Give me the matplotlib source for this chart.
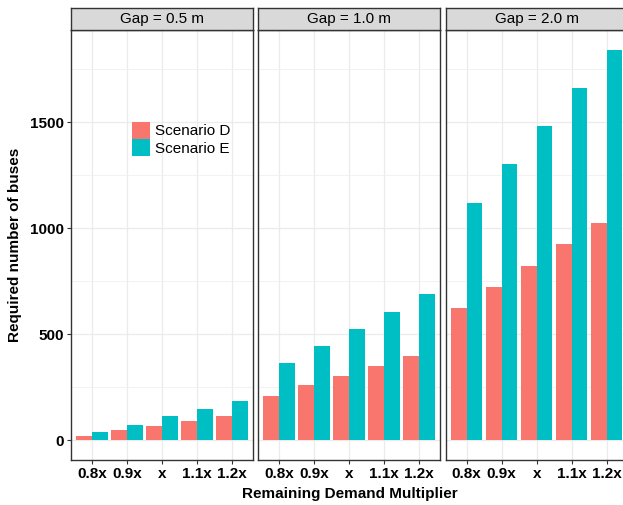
import numpy as np
import matplotlib.pyplot as plt
from matplotlib.patches import Patch

plt.rcParams['font.family'] = ['Liberation Sans', 'DejaVu Sans']

# data
gaps = ["Gap = 0.5 m", "Gap = 1.0 m", "Gap = 2.0 m"]
multipliers = ["0.8x", "0.9x", "x", "1.1x", "1.2x"]
scenario_d = [
    [23, 47, 70, 94, 117],
    [211, 259, 305, 352, 400],
    [625, 724, 823, 926, 1025],
]
scenario_e = [
    [38, 75, 113, 150, 188],
    [367, 447, 526, 606, 691],
    [1119, 1302, 1480, 1659, 1842],
]

col_d = "#F8766D"
col_e = "#00BFC4"
grey20 = "#333333"

W, H = 623, 505
fig = plt.figure(figsize=(W / 100, H / 100), dpi=100)

lefts = [71, 258, 445.7]
pw = 182
top, bottom = 30, 460
strip_h = 22

x = np.arange(1, len(multipliers) + 1)
bw = 0.45
ymax = max(max(r) for r in scenario_e)
ylim = (-0.05 * ymax, 1.05 * ymax)

for i, gap in enumerate(gaps):
    ax = fig.add_axes([lefts[i] / W, (H - bottom) / H, pw / W, (bottom - top) / H])
    ax.bar(x - bw / 2, scenario_d[i], width=bw, color=col_d, zorder=3)
    ax.bar(x + bw / 2, scenario_e[i], width=bw, color=col_e, zorder=3)
    ax.set_xlim(0.4, 5.6)
    ax.set_ylim(*ylim)
    ax.set_xticks(x)
    ax.set_xticklabels(multipliers, fontsize=11, fontweight="bold", color="black")
    ax.set_yticks([0, 500, 1000, 1500])
    ax.set_yticks([250, 750, 1250, 1750], minor=True)
    ax.grid(True, which="major", color="#EBEBEB", linewidth=0.9, zorder=0)
    ax.grid(True, which="minor", axis="y", color="#F0F0F0", linewidth=0.6, zorder=0)
    ax.set_axisbelow(True)
    for s in ax.spines.values():
        s.set_color(grey20)
        s.set_linewidth(1.0)
    ax.tick_params(axis="both", which="major", length=3, width=0.8, color=grey20, pad=2)
    ax.tick_params(axis="y", which="minor", length=0)
    if i == 0:
        ax.set_yticklabels(["0", "500", "1000", "1500"], fontsize=11, fontweight="bold", color="black")
    else:
        ax.tick_params(axis="y", which="major", length=0, labelleft=False)

    # facet strip
    sa = fig.add_axes([lefts[i] / W, (H - top) / H, pw / W, strip_h / H])
    sa.set_facecolor("#D9D9D9")
    sa.set_xticks([])
    sa.set_yticks([])
    for s in sa.spines.values():
        s.set_color(grey20)
        s.set_linewidth(1.0)
    sa.text(0.5, 0.48, gap, ha="center", va="center", fontsize=11, transform=sa.transAxes)

handles = [Patch(facecolor=col_d, edgecolor="none"), Patch(facecolor=col_e, edgecolor="none")]
fig.legend(handles, ["Scenario D", "Scenario E"], loc="upper left",
           bbox_to_anchor=(132 / W, (H - 122) / H), frameon=False, fontsize=11,
           handlelength=1.18, handleheight=1.3, handletextpad=0.35,
           labelspacing=0.05, borderpad=0, borderaxespad=0)

fig.text(15 / W, (H - 245) / H, "Required number of buses", rotation=90,
         ha="center", va="center", fontsize=11, fontweight="bold")
fig.text(349.5 / W, (H - 494) / H, "Remaining Demand Multiplier",
         ha="center", va="center", fontsize=11, fontweight="bold")

fig.savefig("out.png", dpi=100)
